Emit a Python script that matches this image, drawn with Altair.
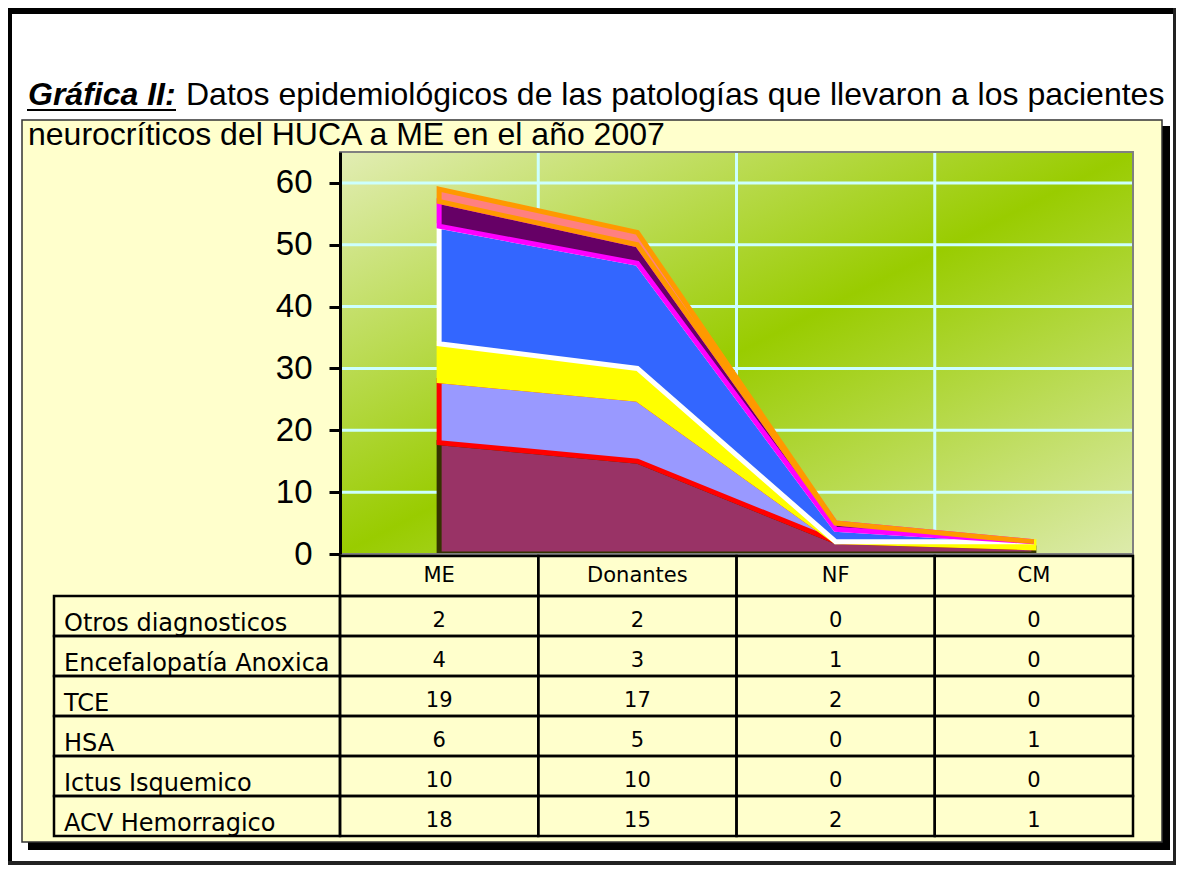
import altair as alt
import pandas as pd

# ---------------- data ----------------
categories = ["ME", "Donantes", "NF", "CM"]
acv_hemorragico = [18, 15, 2, 1]
ictus_isquemico = [10, 10, 0, 0]
hsa = [6, 5, 0, 1]
tce = [19, 17, 2, 0]
encefalopatia_anoxica = [4, 3, 1, 0]
otros_diagnosticos = [2, 2, 0, 0]

# stacking order, bottom to top
series_names = ["ACV Hemorragico", "Ictus Isquemico", "HSA", "TCE",
                "Encefalopatía Anoxica", "Otros diagnosticos"]
series_values = [acv_hemorragico, ictus_isquemico, hsa, tce,
                 encefalopatia_anoxica, otros_diagnosticos]
fill_colors = ["#993366", "#9999FF", "#FFFF00", "#3366FF", "#660066", "#FF8080"]
stroke_colors = ["#333300", "#FF0000", "#FFFF00", "#FFFFFF", "#FF00FF", "#FF9900"]

y_ticks = [0, 10, 20, 30, 40, 50, 60]
y_max = 65

title_bold = "Gráfica II:"
title_line1 = "Datos epidemiológicos de las patologías que llevaron a los pacientes"
title_line2 = "neurocríticos del HUCA a ME en el año 2007"

# ---------------- layout (pixels inside the view) ----------------
W, H = 1168, 857
PX0, PX1, PY0, PY1 = 332, 1125, 144, 546     # plot area
TY0, TY1 = 548, 828                          # table rows
HX0 = 46                                     # left edge of row-header column

one = pd.DataFrame({"k": [0]})


def box(x0, x1, y0, y1, **kw):
    return alt.Chart(one).mark_rect(**kw).encode(
        x=alt.value(x0), x2=alt.value(x1), y=alt.value(y0), y2=alt.value(y1))


def label(txt, x, y, **kw):
    return alt.Chart(one).mark_text(text=txt, align="left", baseline="alphabetic",
                                    color="black", **kw).encode(
        x=alt.value(x), y=alt.value(y))


xs = alt.Scale(domain=[0, 4], range=[PX0, PX1], nice=False, zero=False)
ys = alt.Scale(domain=[0, y_max], range=[PY1, PY0], nice=False, zero=False)
ts = alt.Scale(domain=[0, 7], range=[TY0, TY1], nice=False, zero=False)

layers = []

# outer frame and yellow panel
layers.append(box(0, 4, 0, H, color="black"))
layers.append(box(0, W, 0, 6, color="black"))
layers.append(box(W - 3, W, 0, H, color="#222222"))
layers.append(box(0, W, H - 4, H, color="#222222"))
layers.append(box(20, 1162, 118, 842, color="black"))
layers.append(box(14, 1154, 112, 834, fill="#FFFFCC", stroke="#333333", strokeWidth=1.5))

# title
layers.append(label(title_bold, 20, 97, font="Liberation Sans", fontSize=32,
                    fontWeight="bold", fontStyle="italic"))
layers.append(alt.Chart(one).mark_rule(color="black", strokeWidth=2).encode(
    x=alt.value(19), x2=alt.value(168), y=alt.value(102)))
layers.append(label(title_line1, 178, 97, font="Liberation Sans", fontSize=32))
layers.append(label(title_line2, 20, 137, font="Liberation Sans", fontSize=32))

# plot background gradient
grad = alt.Gradient(
    gradient="linear",
    stops=[alt.GradientStop(color="#E2EDB4", offset=0),
           alt.GradientStop(color="#99CC00", offset=0.5),
           alt.GradientStop(color="#DDEBAC", offset=1)],
    x1=0, y1=0, x2=1, y2=1)
layers.append(box(PX0, PX1, PY0, PY1, fill=grad))

# gridlines + y axis
hgrid = pd.DataFrame({"v": y_ticks[1:]})
layers.append(alt.Chart(hgrid).mark_rule(color="#CCFFFF", strokeWidth=3).encode(
    y=alt.Y("v:Q", scale=ys, axis=alt.Axis(
        orient="left", offset=-PX0, values=y_ticks, title="", grid=False,
        labelFont="Liberation Sans", labelFontSize=33, labelColor="black",
        labelPadding=17, tickSize=11, tickWidth=3, tickColor="black",
        domainColor="black", domainWidth=3, zindex=1)),
    x=alt.value(PX0), x2=alt.value(PX1)))
vgrid = pd.DataFrame({"v": [1, 2, 3]})
layers.append(alt.Chart(vgrid).mark_rule(color="#CCFFFF", strokeWidth=3).encode(
    x=alt.X("v:Q", scale=xs, axis=None), y=alt.value(PY0), y2=alt.value(PY1)))

# stacked areas
rows = []
base = [0, 0, 0, 0]
for name, vals in zip(series_names, series_values):
    for i, v in enumerate(vals):
        rows.append({"serie": name, "xc": i + 0.5, "lo": base[i], "hi": base[i] + v})
    base = [b + v for b, v in zip(base, vals)]
area_df = pd.DataFrame(rows)
for k, name in enumerate(series_names):
    layers.append(alt.Chart(area_df).transform_filter(
        alt.datum.serie == name).mark_area(
        fill=fill_colors[k], stroke=stroke_colors[k], strokeWidth=5,
        strokeJoin="miter", fillOpacity=1).encode(
        x=alt.X("xc:Q", scale=xs, axis=None),
        y=alt.Y("hi:Q", scale=ys, axis=None),
        y2="lo:Q"))

# plot border (grey top / right)
layers.append(box(PX0, PX1, PY0, PY1, fillOpacity=0, stroke="#808080", strokeWidth=2))

# data table
table_rows = list(reversed(series_names))
table_vals = list(reversed(series_values))
cells = []
for r in range(7):
    for c in range(4):
        cells.append({"c0": c, "c1": c + 1, "r0": r, "r1": r + 1})
cells_df = pd.DataFrame(cells)
layers.append(alt.Chart(cells_df).mark_rect(fillOpacity=0, stroke="black", strokeWidth=2.5).encode(
    x=alt.X("c0:Q", scale=xs, axis=None), x2="c1:Q",
    y=alt.Y("r0:Q", scale=ts, axis=None), y2="r1:Q"))
head_df = pd.DataFrame({"r0": list(range(1, 7)), "r1": list(range(2, 8))})
layers.append(alt.Chart(head_df).mark_rect(fillOpacity=0, stroke="black", strokeWidth=2.5).encode(
    x=alt.value(HX0), x2=alt.value(PX0),
    y=alt.Y("r0:Q", scale=ts, axis=None), y2="r1:Q"))

cat_df = pd.DataFrame({"cat": categories, "xc": [i + 0.5 for i in range(4)], "yc": [0.5] * 4})
layers.append(alt.Chart(cat_df).mark_text(font="DejaVu Sans", fontSize=21, color="black",
                                          baseline="middle").encode(
    x=alt.X("xc:Q", scale=xs, axis=None), y=alt.Y("yc:Q", scale=ts, axis=None), text="cat:N"))

num_rows = []
for r, (name, vals) in enumerate(zip(table_rows, table_vals)):
    for i, v in enumerate(vals):
        num_rows.append({"xc": i + 0.5, "yc": r + 1.5, "val": str(v)})
num_df = pd.DataFrame(num_rows)
layers.append(alt.Chart(num_df).mark_text(font="DejaVu Sans", fontSize=21, color="black",
                                          baseline="middle", dy=5).encode(
    x=alt.X("xc:Q", scale=xs, axis=None), y=alt.Y("yc:Q", scale=ts, axis=None), text="val:N"))

lab_df = pd.DataFrame({"name": table_rows, "rb": list(range(2, 8))})
layers.append(alt.Chart(lab_df).mark_text(font="DejaVu Sans", fontSize=24, color="black",
                                          align="left", baseline="alphabetic", dy=-5).encode(
    x=alt.value(56), y=alt.Y("rb:Q", scale=ts, axis=None), text="name:N"))

chart = alt.layer(*layers).resolve_scale(x="independent", y="independent").properties(
    width=W, height=H, autosize=alt.AutoSizeParams(type="none"), padding=0
).configure_view(strokeWidth=0)

chart.save("out.html", embed_options={"renderer": "svg", "actions": False})
